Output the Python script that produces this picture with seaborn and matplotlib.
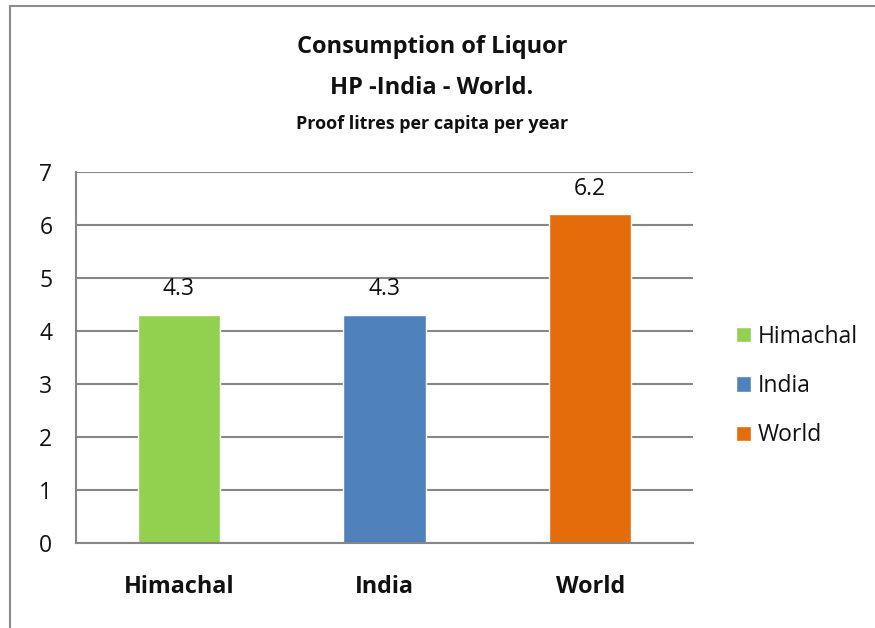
import matplotlib
matplotlib.use("Agg")
import matplotlib.pyplot as plt
from matplotlib.patches import Patch
from matplotlib.lines import Line2D
import seaborn as sns

# chart data
regions = ["Himachal", "India", "World"]
litres = [4.3, 4.3, 6.2]
bar_colors = ["#92D050", "#4F81BD", "#E46C0A"]
y_ticks = [0, 1, 2, 3, 4, 5, 6, 7]

sns.set_style("white")
plt.rcParams['font.family'] = ['Open Sans', 'DejaVu Sans']

fig = plt.figure(figsize=(8.75, 6.28), dpi=100)
ax = fig.add_axes([76 / 875, 1 - 543 / 628, (693 - 76) / 875, (543 - 172) / 628])

sns.barplot(x=regions, y=litres, hue=regions, palette=bar_colors,
            width=0.4, legend=False, saturation=1, ax=ax)

for c in ax.containers:
    ax.bar_label(c, fmt="%.1f", padding=10, fontsize=16.5, color="#111111")

ax.set_ylim(0, 7)
ax.set_yticks(y_ticks)
ax.set_xlim(-0.5, 2.5)
ax.set_xticks(range(len(regions)))
ax.set_xticklabels(regions, fontsize=16.8, fontweight="bold", color="#111111")
ax.set_xticks([-0.5, 0.5, 1.5, 2.5], minor=True)
ax.tick_params(axis="x", which="major", length=0, pad=23)
ax.tick_params(axis="x", which="minor", length=6, width=1.5, color="#868686", direction="out")
ax.tick_params(axis="y", length=6, width=1.5, color="#868686", direction="out",
               labelsize=16.5, labelcolor="#111111", pad=11)

ax.yaxis.grid(True, color="#868686", linewidth=1.5)
ax.set_axisbelow(True)
for side in ["top", "right"]:
    ax.spines[side].set_visible(False)
for side in ["left", "bottom"]:
    ax.spines[side].set_color("#868686")
    ax.spines[side].set_linewidth(1.5)

handles = [Patch(facecolor=col, label=lab) for col, lab in zip(bar_colors, regions)]
fig.legend(handles=handles, loc="center left", bbox_to_anchor=(736 / 875, 1 - 386 / 628),
           frameon=False, fontsize=16.5, handlelength=0.65, handleheight=0.65,
           handletextpad=0.3, labelspacing=1.1, borderpad=0, borderaxespad=0,
           labelcolor="#111111")

fig.text(432 / 875, 1 - 47 / 628, "Consumption of Liquor", ha="center", va="center",
         fontsize=17, fontweight="bold", color="#111111")
fig.text(432 / 875, 1 - 88 / 628, "HP -India - World.", ha="center", va="center",
         fontsize=17, fontweight="bold", color="#111111")
fig.text(432 / 875, 1 - 124 / 628, "Proof litres per capita per year", ha="center",
         va="center", fontsize=13, fontweight="bold", color="#111111")

# outer frame (only top and left edges are visible in the original)
fig.add_artist(Line2D([9.5 / 875, 9.5 / 875], [0, 1 - 5.5 / 628], color="#8c8c8c", linewidth=1.5))
fig.add_artist(Line2D([9.5 / 875, 1], [1 - 5.5 / 628, 1 - 5.5 / 628], color="#8c8c8c", linewidth=1.5))

fig.savefig("out.png", dpi=100)
